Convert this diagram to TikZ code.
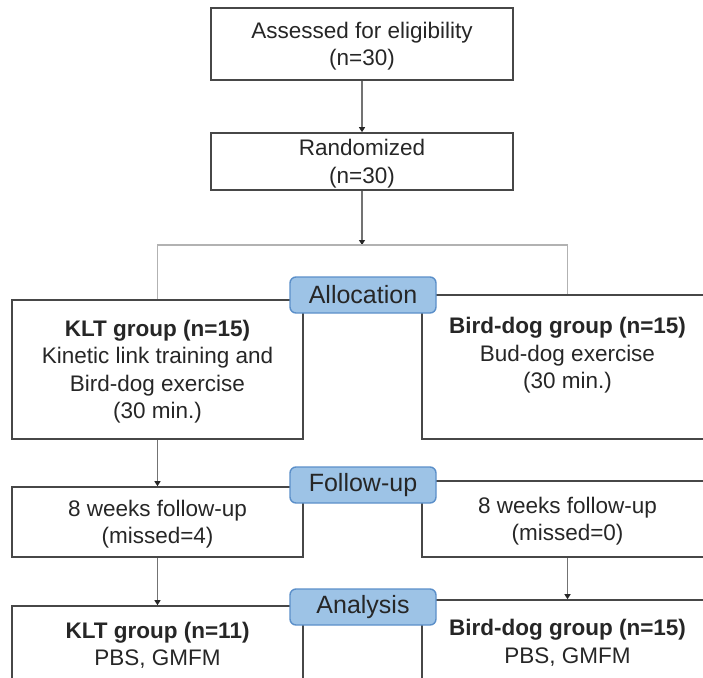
\documentclass[tikz,border=0pt]{standalone}
\usepackage{fontspec}
\setmainfont{Liberation Sans}
\usetikzlibrary{arrows.meta}
\definecolor{boxline}{HTML}{474747}
\definecolor{stagefill}{HTML}{9DC3E6}
\definecolor{stageline}{HTML}{5B8FC9}

\begin{document}
\begin{tikzpicture}[x=1pt,y=-1pt,
  box/.style={draw=boxline,line width=1.6pt,minimum width=291pt,inner sep=0pt,align=center,text depth=0pt,execute at begin node={\rule{0pt}{21pt}},text=black!85,font=\fontsize{22.5}{27.5}\selectfont},
  stage/.style={draw=stageline,fill=stagefill,line width=1.4pt,rounded corners=6pt,minimum width=146pt,minimum height=36pt,inner sep=0pt,text=black!85,font=\fontsize{25}{30}\selectfont},
  arr/.style={draw=black!55,line width=1.2pt,-{Triangle[width=6pt,length=5pt,color=black!85]}},
  splitline/.style={draw=black!30,line width=1.4pt}]
\useasboundingbox (0,0) rectangle (703,677);
\node[box,minimum width=302pt,minimum height=72pt] (assess) at (362,44) {Assessed for eligibility\\(n=30)};
\node[box,minimum width=302pt,minimum height=57pt] (random) at (362,161.5) {Randomized\\(n=30)};
\coordinate (split) at (362,245);
\node[box,minimum height=139pt] (klt) at (157.5,369.5) {\textbf{KLT group (n=15)}\\Kinetic link training and\\Bird-dog exercise\\(30 min.)};
\node[box,minimum height=144pt] (bird) at (567.5,367) {\textbf{Bird-dog group (n=15)}\\Bud-dog exercise\\(30 min.)\\\mbox{}};
\node[box,minimum height=70pt] (kltfu) at (157.5,522) {8 weeks follow-up\\(missed=4)};
\node[box,minimum height=76pt] (birdfu) at (567.5,519) {8 weeks follow-up\\(missed=0)};
\node[box,minimum height=76pt] (kltan) at (157.5,644) {\textbf{KLT group (n=11)}\\PBS, GMFM};
\node[box,minimum height=83pt] (birdan) at (567.5,641.5) {\textbf{Bird-dog group (n=15)}\\PBS, GMFM};
\draw[arr] (assess) -- (random);
\draw[arr] (random) -- (split);
\draw[splitline] (klt.north) |- (split) -| (bird.north);
\draw[arr] (klt) -- (kltfu);
\draw[arr] (kltfu) -- (kltan);
\draw[arr] (birdfu) -- (birdan);
\foreach \y/\A [count=\i] in {295/Allocation,485/Follow-up,607/Analysis} {%
    \node[stage] (stage\i) at (363,\y) {\A};
}
\end{tikzpicture}
\end{document}
